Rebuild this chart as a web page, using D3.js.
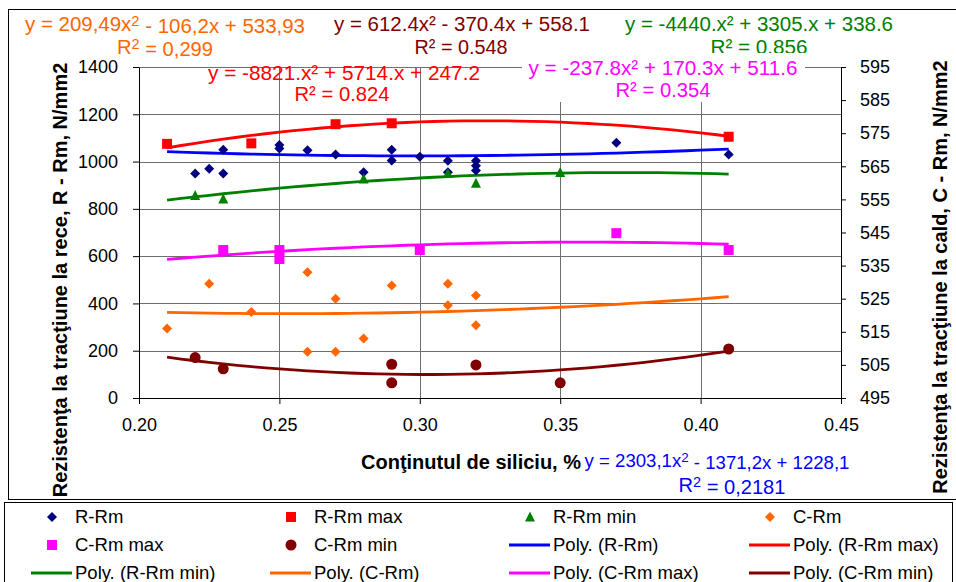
<!DOCTYPE html>
<html>
<head>
<meta charset="utf-8">
<script src="https://cdn.jsdelivr.net/npm/d3@7"></script>
<style>
body { margin: 0; background: #fff; }
svg text { font-family: "Liberation Sans", Arial, sans-serif; }
</style>
</head>
<body>
<div id="chart"></div>
<script>
var xRRm = [0.22, 0.225, 0.23, 0.23, 0.25, 0.25, 0.26, 0.27, 0.28, 0.29, 0.29, 0.30, 0.31, 0.31, 0.32, 0.32, 0.32, 0.37, 0.41];
var yRRm = [950, 970, 1050, 950, 1070, 1055, 1048, 1030, 955, 1050, 1005, 1020, 1003, 955, 1003, 982, 962, 1080, 1030];

var xRRmMax = [0.21, 0.24, 0.27, 0.29, 0.41];
var yRRmMax = [1075, 1077, 1158, 1162, 1105];

var xRRmMin = [0.22, 0.23, 0.28, 0.31, 0.32, 0.35];
var yRRmMin = [857, 842, 926, 950, 908, 954];

var xCRm = [0.21, 0.225, 0.24, 0.26, 0.26, 0.27, 0.27, 0.28, 0.29, 0.31, 0.31, 0.32, 0.32];
var yCRm = [516, 529.5, 521, 533, 509, 525, 509, 513, 529, 529.5, 523, 526, 517];

var xCRmMax = [0.23, 0.25, 0.25, 0.30, 0.37, 0.41];
var yCRmMax = [539.7, 539.7, 537, 539.7, 544.8, 539.7];

var xCRmMin = [0.22, 0.23, 0.29, 0.29, 0.32, 0.35, 0.41];
var yCRmMin = [507.2, 503.8, 505.2, 499.6, 505, 499.6, 509.8];

// polynomial trendline coefficients [x^2, x, const], as printed on the chart
var polyRRm = [2303.1, -1371.2, 1228.1];
var polyRRmMax = [-8821, 5714, 247.2];
var polyRRmMin = [-4440, 3305, 338.6];
var polyCRm = [209.49, -106.2, 533.93];
var polyCRmMax = [-237.8, 170.3, 511.6];
var polyCRmMin = [612.4, -370.4, 558.1];

// silicon range covered by the trendlines (min and max of the x column)
var trendRange = [0.21, 0.41];

// tick values
var xTicks = [0.20, 0.25, 0.30, 0.35, 0.40, 0.45];
var leftTicks = [0, 200, 400, 600, 800, 1000, 1200, 1400];
var rightTicks = [495, 505, 515, 525, 535, 545, 555, 565, 575, 585, 595];

// trendline labels
var eqRRm = ["y = 2303,1x^2 - 1371,2x + 1228,1", "R^2 = 0,2181"];
var eqRRmMax = ["y = -8821.x² + 5714.x + 247.2", "R² = 0.824"];
var eqRRmMin = ["y = -4440.x² + 3305.x + 338.6", "R² = 0.856"];
var eqCRm = ["y = 209,49x^2 - 106,2x + 533,93", "R^2 = 0,299"];
var eqCRmMax = ["y = -237.8x² + 170.3x + 511.6", "R² = 0.354"];
var eqCRmMin = ["y = 612.4x² - 370.4x + 558.1", "R² = 0.548"];

var width = 956, height = 582;
var plot = {left: 139, right: 841, top: 67, bottom: 398};

var svg = d3.select("#chart").append("svg").attr("width", width).attr("height", height);

// chart frame and legend frame
svg.append("rect").attr("x", 8.5).attr("y", 9.5).attr("width", 960).attr("height", 490)
    .attr("fill", "none").attr("stroke", "#000");
svg.append("rect").attr("x", 4.5).attr("y", 502.5).attr("width", 948).attr("height", 90)
    .attr("fill", "#fff").attr("stroke", "#000");

// scales: data x, primary (cold) y on the left, secondary (hot) y on the right
var x = d3.scaleLinear().domain([0.20, 0.45]).range([plot.left, plot.right]);
var yL = d3.scaleLinear().domain([0, 1400]).range([plot.bottom, plot.top]);
var yR = d3.scaleLinear().domain([495, 595]).range([plot.bottom, plot.top]);

// gridlines
svg.append("g").selectAll("line").data(leftTicks.slice(1)).enter().append("line")
    .attr("x1", plot.left).attr("x2", plot.right)
    .attr("y1", function(d) { return Math.round(yL(d)) + 0.5; })
    .attr("y2", function(d) { return Math.round(yL(d)) + 0.5; })
    .attr("stroke", "#6e6e6e");
svg.append("g").selectAll("line").data(xTicks.slice(1, -1)).enter().append("line")
    .attr("y1", plot.top).attr("y2", plot.bottom)
    .attr("x1", function(d) { return Math.round(x(d)) + 0.5; })
    .attr("x2", function(d) { return Math.round(x(d)) + 0.5; })
    .attr("stroke", "#6e6e6e");

// axes
var xAxis = svg.append("g").attr("transform", "translate(0," + plot.bottom + ")")
    .call(d3.axisBottom(x).tickValues(xTicks).tickFormat(d3.format(".2f")).tickSize(6).tickSizeOuter(0).tickPadding(14));
var leftAxis = svg.append("g").attr("transform", "translate(" + plot.left + ",0)")
    .call(d3.axisLeft(yL).tickValues(leftTicks).tickFormat(d3.format("d")).tickSize(6).tickSizeOuter(0).tickPadding(15));
var rightAxis = svg.append("g").attr("transform", "translate(" + plot.right + ",0)")
    .call(d3.axisRight(yR).tickValues(rightTicks).tickFormat(d3.format("d")).tickSize(5).tickSizeOuter(0).tickPadding(14));
[xAxis, leftAxis, rightAxis].forEach(function(a) {
    a.select(".domain").attr("stroke", "#000");
    a.selectAll(".tick line").attr("stroke", "#000");
    a.selectAll("text").attr("fill", "#000").style("font-size", "18px")
        .style("font-family", "'Liberation Sans', Arial, sans-serif");
});

// axis titles
svg.append("text").attr("x", 471).attr("y", 469).attr("text-anchor", "middle")
    .style("font-size", "20px").style("font-weight", "bold").text("Conţinutul de siliciu, %");
svg.append("text").attr("transform", "translate(67,280) rotate(-90)").attr("text-anchor", "middle")
    .style("font-size", "20px").style("font-weight", "bold").text("Rezistenţa la tracţiune la rece, R - Rm, N/mm2");
svg.append("text").attr("transform", "translate(947,277) rotate(-90)").attr("text-anchor", "middle")
    .style("font-size", "20px").style("font-weight", "bold").text("Rezistenţa la tracţiune la cald, C - Rm, N/mm2");

// marker shapes
function marker(type, size) {
    var r = size / 2;
    if (type == "diamond") return "M0," + (-r) + "L" + r + ",0L0," + r + "L" + (-r) + ",0Z";
    if (type == "square") return "M" + (-r) + "," + (-r) + "h" + size + "v" + size + "h" + (-size) + "Z";
    if (type == "triangle") return "M0," + (-r - 1) + "L" + (r + 0.5) + "," + (r) + "L" + (-r - 0.5) + "," + (r) + "Z";
    return d3.symbol().type(d3.symbolCircle).size(Math.PI * r * r)();
}

var series = [
    {name: "R-Rm", xs: xRRm, ys: yRRm, poly: polyRRm, y: yL, color: "#000080", line: "#0000ff", shape: "diamond", size: 10},
    {name: "R-Rm max", xs: xRRmMax, ys: yRRmMax, poly: polyRRmMax, y: yL, color: "#ff0000", line: "#ff0000", shape: "square", size: 10},
    {name: "R-Rm min", xs: xRRmMin, ys: yRRmMin, poly: polyRRmMin, y: yL, color: "#008000", line: "#008000", shape: "triangle", size: 9},
    {name: "C-Rm", xs: xCRm, ys: yCRm, poly: polyCRm, y: yR, color: "#ff6600", line: "#ff6600", shape: "diamond", size: 10},
    {name: "C-Rm max", xs: xCRmMax, ys: yCRmMax, poly: polyCRmMax, y: yR, color: "#ff00ff", line: "#ff00ff", shape: "square", size: 10},
    {name: "C-Rm min", xs: xCRmMin, ys: yCRmMin, poly: polyCRmMin, y: yR, color: "#800000", line: "#800000", shape: "circle", size: 11}
];

// trendlines, evaluated along the silicon range
var line = d3.line().x(function(d) { return x(d[0]); }).y(function(d) { return d[1]; });
series.forEach(function(s) {
    var pts = d3.range(0, 41).map(function(i) {
        var xv = trendRange[0] + (trendRange[1] - trendRange[0]) * i / 40;
        return [xv, s.y(s.poly[0] * xv * xv + s.poly[1] * xv + s.poly[2])];
    });
    svg.append("path").datum(pts).attr("d", line).attr("fill", "none")
        .attr("stroke", s.line).attr("stroke-width", 2.8);
});

// markers
series.forEach(function(s) {
    svg.append("g").selectAll("path").data(s.xs).enter().append("path")
        .attr("d", marker(s.shape, s.size)).attr("fill", s.color)
        .attr("transform", function(d, i) { return "translate(" + x(d) + "," + s.y(s.ys[i]) + ")"; });
});

// writes an equation, turning "^2" into a raised 2; len stretches it to the width seen on the chart
function equation(str, px, py, color, len, size) {
    var t = svg.append("text").attr("x", px).attr("y", py).attr("text-anchor", "middle")
        .attr("fill", color).style("font-size", (size || 20) + "px");
    if (len) t.attr("textLength", len).attr("lengthAdjust", "spacingAndGlyphs");
    var parts = str.split("^2");
    parts.forEach(function(p, i) {
        var ts = t.append("tspan").text(p);
        if (i > 0) ts.attr("dy", "0.35em");
        if (i < parts.length - 1) t.append("tspan").attr("dy", "-0.35em").style("font-size", "0.72em").text("2");
    });
    return t;
}

// trendline equations
equation(eqCRm[0], 165, 31, "#ff6600", 280);
equation(eqCRm[1], 165, 54, "#ff6600", 96);
equation(eqCRmMin[0], 462, 31, "#800000", 256);
equation(eqCRmMin[1], 461, 54, "#800000", 93);
equation(eqRRmMin[0], 759, 31, "#008000", 268);
equation(eqRRmMin[1], 759, 54, "#008000", 97);
svg.append("rect").attr("x", 522).attr("y", 53).attr("width", 283).attr("height", 49).attr("fill", "#fff");
equation(eqCRmMax[0], 663, 75, "#ff00ff", 269);
equation(eqCRmMax[1], 663, 97, "#ff00ff", 95);
equation(eqRRmMax[0], 344, 80, "#ff0000", 272);
equation(eqRRmMax[1], 342, 101, "#ff0000", 95);
equation(eqRRm[0], 717, 467, "#0000ff", null, 18.6);
equation(eqRRm[1], 732, 492, "#0000ff", 107);

// legend: markers first, then the polynomial trendlines
var legendItems = series.map(function(s) { return {label: s.name, s: s, kind: "marker"}; })
    .concat(series.map(function(s) { return {label: "Poly. (" + s.name + ")", s: s, kind: "line"}; }));
var colX = [52, 291, 530, 770];
var rowY = [517, 545, 573];
var legend = svg.append("g").selectAll("g").data(legendItems).enter().append("g")
    .attr("transform", function(d, i) { return "translate(" + colX[i % 4] + "," + rowY[Math.floor(i / 4)] + ")"; });
legend.each(function(d) {
    var g = d3.select(this);
    if (d.kind == "marker") {
        g.append("path").attr("d", marker(d.s.shape, d.s.size)).attr("fill", d.s.color);
        g.append("text").attr("x", 23).attr("y", 6).style("font-size", "18.5px").text(d.label);
    } else {
        g.append("line").attr("x1", -21).attr("x2", 20).attr("stroke", d.s.line).attr("stroke-width", 2.8);
        g.append("text").attr("x", 23).attr("y", 6).style("font-size", "18.5px").text(d.label);
    }
});
</script>
</body>
</html>
